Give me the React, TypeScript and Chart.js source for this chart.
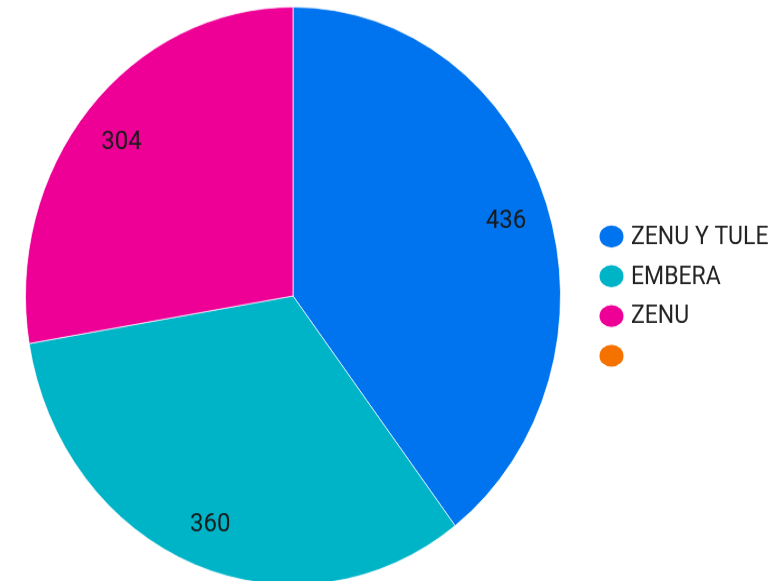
import React, { useEffect, useRef } from "react";
import { Chart, registerables } from "chart.js";

Chart.register(...registerables);

const categories = ["ZENU Y TULE", "EMBERA", "ZENU", ""];
const values = [436, 360, 304, 0];
const colors = ["#0073EE", "#00B4C8", "#EE0097", "#F57100"];

const FONT = "Roboto, 'Noto Sans', sans-serif";
const STRETCH_Y = 1.08;
const CANVAS_W = 779;
const CANVAS_H = 548;

const sliceLabels = {
  id: "sliceLabels",
  afterDatasetsDraw(chart: any) {
    const ctx = chart.ctx;
    const meta = chart.getDatasetMeta(0);
    const data = chart.data.datasets[0].data as number[];
    ctx.save();
    ctx.font = `24px ${FONT}`;
    ctx.fillStyle = "#1a1a1a";
    ctx.textAlign = "center";
    ctx.textBaseline = "middle";
    meta.data.forEach((arc: any, i: number) => {
      const v = data[i];
      if (!v) return;
      const p = arc.getProps(["x", "y", "startAngle", "endAngle", "outerRadius"], true);
      const mid = (p.startAngle + p.endAngle) / 2;
      const r = p.outerRadius * 0.84;
      ctx.fillText(String(v), p.x + Math.cos(mid) * r, p.y + Math.sin(mid) * r + 3);
    });
    ctx.restore();
  },
};

const sideLegend = {
  id: "sideLegend",
  afterDraw(chart: any) {
    const ctx = chart.ctx;
    const labels = chart.data.labels as string[];
    const bg = chart.data.datasets[0].backgroundColor as string[];
    const x0 = 611.5;
    const y0 = 219;
    const step = 36.8;
    ctx.save();
    ctx.font = `23px ${FONT}`;
    ctx.textAlign = "left";
    ctx.textBaseline = "middle";
    labels.forEach((lab, i) => {
      const y = y0 + i * step;
      ctx.beginPath();
      ctx.fillStyle = bg[i];
      ctx.ellipse(x0, y, 12, 10.2, 0, 0, Math.PI * 2);
      ctx.fill();
      ctx.fillStyle = "#222222";
      ctx.fillText(lab, 631, y + 1);
    });
    ctx.restore();
  },
};

export default function App() {
  const ref = useRef<HTMLCanvasElement | null>(null);

  useEffect(() => {
    document.body.style.margin = "0";
    const canvas = ref.current!;
    canvas.width = CANVAS_W;
    canvas.height = CANVAS_H;
    const chart = new Chart(canvas, {
      type: "pie",
      data: {
        labels: categories,
        datasets: [
          {
            data: values,
            backgroundColor: colors,
            borderColor: "rgba(255,255,255,0.7)",
            borderWidth: 1,
            hoverOffset: 0,
          },
        ],
      },
      options: {
        responsive: false,
        animation: false,
        devicePixelRatio: 1,
        layout: { padding: { left: 25, top: 6, right: 218, bottom: 6 } },
        plugins: {
          legend: { display: false },
          tooltip: { enabled: false },
        },
      },
      plugins: [sliceLabels, sideLegend],
    });
    return () => chart.destroy();
  }, []);

  return (
    <div style={{ width: 779, height: 581, overflow: "hidden", position: "relative", background: "#fff" }}>
      <canvas
        ref={ref}
        width={CANVAS_W}
        height={CANVAS_H}
        style={{
          display: "block",
          width: CANVAS_W + "px",
          height: CANVAS_H + "px",
          transform: `scaleY(${STRETCH_Y})`,
          transformOrigin: "0 0",
        }}
      />
    </div>
  );
}
